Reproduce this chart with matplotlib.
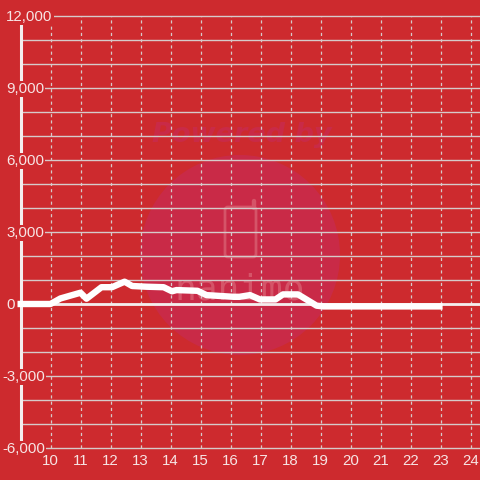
import matplotlib
matplotlib.use("Agg")
import matplotlib.pyplot as plt
from matplotlib.patches import Circle, FancyBboxPatch

# data
hours = [8.9, 10, 10.33, 11, 11.2, 11.7, 12.05, 12.47, 12.72, 13.2, 13.77, 14.05, 14.2, 14.9, 15.2,
         16.1, 16.3, 16.65, 16.98, 17.5, 17.75, 18.25, 18.87, 19.1, 23.07]
values = [0, 0, 230, 470, 220, 700, 700, 930, 750, 720, 700, 530, 580, 550, 370,
          300, 300, 370, 190, 190, 400, 400, -70, -100, -100]
y_ticks = [12000, 9000, 6000, 3000, 0, -3000, -6000]
y_grid = list(range(-6000, 13000, 1000))
x_ticks = list(range(10, 25))

bg = "#CD2A2E"
pink = "#C92A47"
logo = "#D55468"
grid_col = "#D6CACA"
txt = "#F7E4E4"

plt.rcParams["font.family"] = ["Liberation Sans", "DejaVu Sans"]

fig = plt.figure(figsize=(4.8, 4.8), dpi=100, facecolor=bg)
ax = fig.add_axes([0, 0, 1, 1], facecolor=bg)
# 30 px per hour, 24 px per 1000
ax.set_xlim(10 - 50.5 / 30, 10 + 429.5 / 30)
ax.set_ylim(-176 / 24 * 1000, 304 / 24 * 1000)
ax.axis("off")


# pixel position to data position, for the labels
def px(x, y):
    return 10 + (x - 50.5) / 30, (304 - y) / 24 * 1000


# watermark, drawn in pixel coordinates
wm = ax.inset_axes([0, 0, 1, 1], zorder=0)
wm.set_xlim(0, 480)
wm.set_ylim(480, 0)
wm.axis("off")
wm.add_patch(Circle((240, 255), 100, fc=pink, ec="none"))
wm.add_patch(FancyBboxPatch((225, 207), 31, 50, boxstyle="round,pad=0,rounding_size=3",
                            fc="none", ec=logo, lw=2))
wm.plot([253.5, 253.5], [201, 208], color=logo, lw=3.2, solid_capstyle="round")
wm.text(242, 135, "Powered by", color=pink, fontsize=19.5, fontweight="bold", style="italic",
        ha="center", va="center", family="DejaVu Sans")
wm.text(240, 300, "nanimo", color=logo, fontsize=26, ha="center", va="baseline",
        family="DejaVu Sans Mono")
ax.set_zorder(1)
ax.patch.set_visible(False)

# grid
for v in y_grid:
    ax.plot([9, 10 + 429.5 / 30], [v, v], color=grid_col, lw=1.0, zorder=2, solid_capstyle="butt")
for h in x_ticks:
    ax.plot([h, h], [-6000, 12000], color=grid_col, lw=0.9, ls=(0, (2.5, 2.5)), zorder=2)
ax.plot([9, 9], [-6000, 12000], color="#F4EEEE", lw=2.2, zorder=3, solid_capstyle="butt")
ax.plot([9, 10 + 429.5 / 30], [0, 0], color="#F4EEEE", lw=2.0, zorder=3, solid_capstyle="butt")

# series
ax.plot(hours, values, color="white", lw=4.6, zorder=4, solid_joinstyle="round", solid_capstyle="butt")

# tick labels sit on a box of background colour, it cuts the axis and the grid
for v in y_ticks:
    x0, y0 = px(2 if v < 0 else 6, 0)
    ax.text(x0, v - 40, f"{v:,}", color=txt, fontsize=10.8, ha="left", va="center", zorder=5,
            bbox=dict(fc=bg, ec="none", pad=1.0))
for h in x_ticks:
    ax.text(h, px(0, 461)[1], str(h), color=txt, fontsize=10.8, ha="center", va="center", zorder=5)

fig.savefig("out.png", dpi=100, facecolor=bg)
